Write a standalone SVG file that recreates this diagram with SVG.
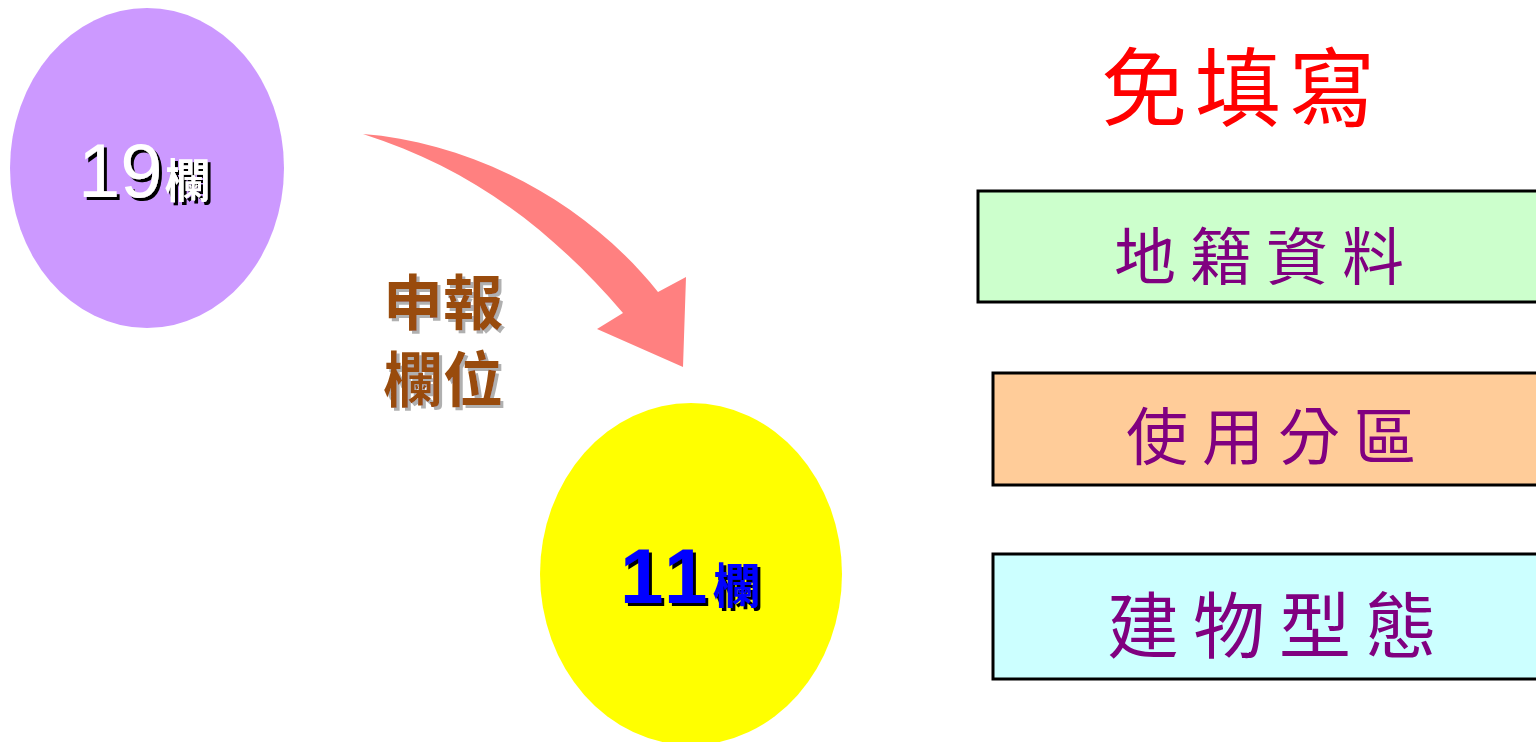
<svg xmlns="http://www.w3.org/2000/svg" width="1536" height="742" viewBox="0 0 1536 742">
<defs>
<filter id="shBlack" x="-20%" y="-20%" width="140%" height="140%">
<feDropShadow dx="3" dy="3" stdDeviation="0" flood-color="#000"/>
</filter>
<filter id="shGray" x="-20%" y="-20%" width="140%" height="140%">
<feDropShadow dx="3" dy="3" stdDeviation="0.5" flood-color="#b0b0b0"/>
</filter>
<style>
.cjk{font-family:"Noto Sans CJK TC","Noto Sans CJK SC",sans-serif}
.num{font-family:"Liberation Sans","Noto Sans CJK TC",sans-serif}
.box{stroke:#000;stroke-width:3}
.lbl{fill:#800080;font-size:62px;text-anchor:middle;letter-spacing:14px}
</style>
</defs>
<rect width="1536" height="742" fill="#fff"/>
<g id="connectors">
<path d="M363,134 C470,142 585,200 658,292 L686,277 L683,367 L597,329 L623,313 C550,228 470,168 363,134 Z" fill="#FF8080"/>
</g>
<g id="node-19">
<ellipse cx="147" cy="168" rx="137" ry="160" fill="#CC99FF"/>
<text x="78" y="197" fill="#fff" filter="url(#shBlack)"><tspan class="num" font-size="76">19</tspan><tspan class="cjk" font-size="46" font-weight="bold" dx="2">欄</tspan></text>
</g>
<g id="label-shenbao">
<text x="443" y="325" class="cjk" font-size="60" font-weight="bold" fill="#994C0C" text-anchor="middle" filter="url(#shGray)">申報</text>
<text x="443" y="402" class="cjk" font-size="60" font-weight="bold" fill="#994C0C" text-anchor="middle" filter="url(#shGray)">欄位</text>
</g>
<g id="node-11">
<ellipse cx="691" cy="574" rx="151" ry="171" fill="#FFFF00"/>
<text x="620" y="603" fill="#0000FF" filter="url(#shBlack)"><tspan class="num" font-size="78" font-weight="bold" letter-spacing="5">11</tspan><tspan class="cjk" font-size="48" font-weight="bold" dx="0">欄</tspan></text>
</g>
<g id="title">
<text x="1242" y="120" class="cjk" font-size="86" fill="#FF0000" text-anchor="middle" letter-spacing="8">免填寫</text>
</g>
<g id="box-diji">
<rect x="978" y="191" width="570" height="111" fill="#CCFFCC" class="box"/>
<text x="1266" y="280" class="cjk lbl">地籍資料</text>
</g>
<g id="box-shiyong">
<rect x="993" y="373" width="560" height="112" fill="#FFCC99" class="box"/>
<text x="1278" y="460" class="cjk lbl">使用分區</text>
</g>
<g id="box-jianwu">
<rect x="993" y="554" width="560" height="125" fill="#CCFFFF" class="box"/>
<text x="1279" y="652" class="cjk lbl" style="font-size:72px">建物型態</text>
</g>
</svg>
